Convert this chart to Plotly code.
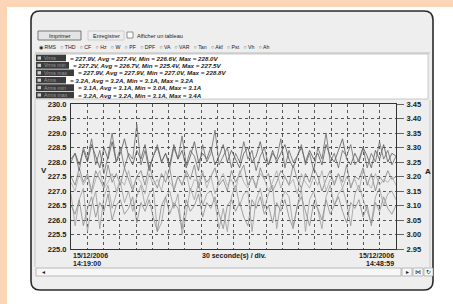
import plotly.graph_objects as go

# ---------------- data ----------------
series_names = ["Vrms max", "Vrms", "Vrms min", "Arms max", "Arms", "Arms min"]

vrms_max = [228.1, 228.3, 227.9, 228.4, 228.0, 228.6, 228.2, 227.8, 228.5, 228.1,
            228.7, 228.0, 228.3, 228.8, 228.2, 227.9, 228.4, 228.1, 228.6, 227.8,
            228.2, 228.5, 228.0, 228.3, 227.9, 228.6, 228.1, 228.4, 227.8, 228.2,
            228.7, 228.0, 228.3, 228.1, 228.5, 227.9, 228.2, 228.6, 228.0, 228.4,
            228.1, 227.8, 228.3, 228.5, 228.0, 228.2, 228.7, 228.1, 227.9, 228.4,
            228.0, 228.3, 228.6, 228.1, 227.8, 228.2, 228.5, 228.0, 228.4, 228.1,
            228.3, 227.9, 228.6, 228.2, 228.0, 228.4, 228.8, 228.1, 227.9, 228.3,
            228.0, 228.5, 228.2, 227.8, 228.4, 228.1, 228.6, 228.0, 228.3, 228.2]

vrms = [227.5, 227.2, 227.8, 227.3, 227.6, 227.0, 227.7, 227.4, 227.1, 227.9,
        227.3, 227.6, 227.2, 227.8, 227.4, 227.0, 227.5, 227.7, 227.2, 227.9,
        227.4, 227.1, 227.6, 227.3, 227.8, 227.0, 227.5, 227.2, 227.7, 227.4,
        227.9, 227.1, 227.6, 227.3, 227.5, 227.8, 227.2, 227.4, 227.0, 227.7,
        227.3, 227.6, 227.9, 227.2, 227.5, 227.1, 227.8, 227.4, 227.6, 227.0,
        227.3, 227.7, 227.5, 227.2, 227.9, 227.4, 227.1, 227.6, 227.3, 227.8,
        227.5, 227.0, 227.4, 227.7, 227.2, 227.6, 227.3, 227.9, 227.1, 227.5,
        227.4, 227.8, 227.2, 227.6, 227.0, 227.5, 227.3, 227.7, 227.4, 227.5]

vrms_min = [226.9, 225.8, 226.7, 227.1, 225.6, 226.5, 227.0, 225.7, 226.8, 227.2,
            226.4, 226.9, 227.3, 226.6, 227.0, 226.3, 226.8, 227.2, 226.5, 226.9,
            227.1, 225.6, 225.9, 226.8, 227.0, 226.4, 226.9, 225.5, 226.2, 227.1,
            226.7, 227.3, 226.5, 226.9, 227.0, 226.6, 225.7, 226.4, 225.6, 226.8,
            227.2, 226.5, 226.9, 227.0, 225.6, 226.7, 227.1, 226.4, 226.9, 227.2,
            225.7, 226.6, 227.0, 226.8, 225.8, 226.5, 227.1, 225.6, 226.7, 227.0,
            226.4, 225.7, 226.8, 227.2, 226.5, 226.9, 227.1, 226.6, 225.8, 226.9,
            227.2, 226.7, 226.3, 225.9, 226.8, 227.1, 226.5, 226.9, 227.0, 226.7]

arms_max = [3.25, 3.28, 3.22, 3.30, 3.26, 3.33, 3.24, 3.29, 3.21, 3.27,
            3.35, 3.25, 3.30, 3.23, 3.28, 3.26, 3.38, 3.24, 3.29, 3.22,
            3.27, 3.31, 3.25, 3.28, 3.23, 3.30, 3.26, 3.34, 3.24, 3.29,
            3.27, 3.22, 3.31, 3.25, 3.28, 3.36, 3.24, 3.27, 3.30, 3.23,
            3.28, 3.25, 3.32, 3.26, 3.29, 3.22, 3.27, 3.30, 3.24, 3.28,
            3.26, 3.33, 3.23, 3.29, 3.25, 3.27, 3.31, 3.24, 3.28, 3.22,
            3.30, 3.26, 3.35, 3.25, 3.28, 3.23, 3.29, 3.27, 3.31, 3.24,
            3.26, 3.30, 3.23, 3.28, 3.25, 3.32, 3.26, 3.29, 3.24, 3.27]

arms = [3.18, 3.15, 3.21, 3.17, 3.20, 3.14, 3.19, 3.22, 3.16, 3.18,
        3.21, 3.15, 3.19, 3.17, 3.22, 3.16, 3.20, 3.18, 3.14, 3.21,
        3.17, 3.19, 3.15, 3.22, 3.18, 3.16, 3.20, 3.17, 3.21, 3.15,
        3.19, 3.18, 3.22, 3.16, 3.20, 3.14, 3.18, 3.21, 3.17, 3.19,
        3.15, 3.22, 3.18, 3.16, 3.20, 3.17, 3.21, 3.19, 3.15, 3.18,
        3.22, 3.16, 3.20, 3.17, 3.19, 3.14, 3.21, 3.18, 3.16, 3.20,
        3.17, 3.22, 3.15, 3.19, 3.18, 3.21, 3.16, 3.20, 3.17, 3.19,
        3.15, 3.22, 3.18, 3.16, 3.21, 3.17, 3.19, 3.18, 3.20, 3.17]

arms_min = [3.10, 3.07, 3.12, 3.03, 3.09, 3.13, 3.06, 3.11, 3.08, 3.14,
            3.05, 3.10, 3.12, 3.07, 3.09, 3.13, 3.04, 3.11, 3.08, 3.12,
            3.06, 3.01, 3.10, 3.13, 3.07, 3.11, 3.09, 3.02, 3.12, 3.08,
            3.10, 3.14, 3.06, 3.11, 3.09, 3.13, 3.07, 3.02, 3.10, 3.12,
            3.08, 3.11, 3.06, 3.03, 3.12, 3.09, 3.13, 3.07, 3.10, 3.04,
            3.11, 3.08, 3.12, 3.06, 3.02, 3.10, 3.13, 3.08, 3.03, 3.11,
            3.09, 3.05, 3.12, 3.07, 3.10, 3.13, 3.08, 3.04, 3.11, 3.09,
            3.12, 3.06, 3.10, 3.03, 3.11, 3.08, 3.13, 3.09, 3.07, 3.10]

legend_labels = ["Vrms", "Vrms min", "Vrms max", "Arms", "Arms min", "Arms max"]
legend_texts = ["= 227.9V, Avg = 227.4V, Min = 226.6V, Max = 228.0V",
                "= 227.2V, Avg = 226.7V, Min = 225.4V, Max = 227.5V",
                "= 227.9V, Avg = 227.9V, Min = 227.0V, Max = 228.8V",
                "= 3.2A, Avg = 3.2A, Min = 3.1A, Max = 3.2A",
                "= 3.1A, Avg = 3.1A, Min = 3.0A, Max = 3.1A",
                "= 3.2A, Avg = 3.2A, Min = 3.1A, Max = 3.4A"]

v_ticks = [225.0, 225.5, 226.0, 226.5, 227.0, 227.5, 228.0, 228.5, 229.0, 229.5, 230.0]
a_ticks = [2.95, 3.00, 3.05, 3.10, 3.15, 3.20, 3.25, 3.30, 3.35, 3.40, 3.45]
radio_items = ["RMS", "THD", "CF", "Hz", "W", "PF", "DPF", "VA", "VAR", "Tan", "Akf", "Pst", "Vh", "Ah"]
t_start = ["15/12/2006", "14:19:00"]
t_end = ["15/12/2006", "14:48:59"]
duration_s = 1799

# ---------------- geometry helpers ----------------
W_FIG, H_FIG = 453, 304
L, R, T, B = 71, 396, 104, 249
PW, PH = R - L, B - T


def px(x):
    return (x - L) / PW


def py(y):
    return (B - y) / PH


def times(n):
    return [i * duration_s / (n - 1) for i in range(n)]


fig = go.Figure()
styles = [("#555555", "y"), ("#808080", "y"), ("#9c9c9c", "y"),
          ("#6a6a6a", "y2"), ("#aaaaaa", "y2"), ("#8a8a8a", "y2")]
all_series = [vrms_max, vrms, vrms_min, arms_max, arms, arms_min]
for name, vals, (col, ax) in zip(series_names, all_series, styles):
    fig.add_trace(go.Scatter(x=times(len(vals)), y=vals, name=name, mode="lines",
                             line=dict(color=col, width=0.8), yaxis=ax, hoverinfo="skip"))

shapes = []


def rect(x0, y0, x1, y1, fill, line=None, lw=0):
    shapes.append(dict(type="rect", xref="paper", yref="paper", layer="below",
                       x0=px(x0), x1=px(x1), y0=py(y0), y1=py(y1),
                       fillcolor=fill, line=dict(color=line or fill, width=lw)))


def hline(x0, x1, y, col, lw=1):
    shapes.append(dict(type="line", xref="paper", yref="paper", layer="below",
                       x0=px(x0), x1=px(x1), y0=py(y), y1=py(y), line=dict(color=col, width=lw)))


def vline(x, y0, y1, col, lw=1):
    shapes.append(dict(type="line", xref="paper", yref="paper", layer="below",
                       x0=px(x), x1=px(x), y0=py(y0), y1=py(y1), line=dict(color=col, width=lw)))


# peach page background (top and left bands)
rect(0, 0, W_FIG, 7, "#fcd4b6")
rect(0, 0, 7, H_FIG, "#fcd4b6")

# window with rounded corners
x0, x1, y0, y1, r = 31, 433, 11, 290, 9
pts = (f"M {px(x0 + r)},{py(y0)} L {px(x1 - r)},{py(y0)} Q {px(x1)},{py(y0)} {px(x1)},{py(y0 + r)} "
       f"L {px(x1)},{py(y1 - r)} Q {px(x1)},{py(y1)} {px(x1 - r)},{py(y1)} "
       f"L {px(x0 + r)},{py(y1)} Q {px(x0)},{py(y1)} {px(x0)},{py(y1 - r)} "
       f"L {px(x0)},{py(y0 + r)} Q {px(x0)},{py(y0)} {px(x0 + r)},{py(y0)} Z")
shapes.append(dict(type="path", path=pts, xref="paper", yref="paper", layer="below",
                   fillcolor="#eeeeee", line=dict(color="#2a2a2a", width=1.6)))

# buttons
rect(38, 31, 81, 40, "#e4e4e4", "#777777", 1)
rect(88, 31, 124, 40, "#eeeeee", "#bbbbbb", 0.6)
rect(127, 32, 133, 38, "#ffffff", "#777777", 0.8)

# separator under radio row
hline(35, 430, 53, "#bdbdbd", 1)

# legend box
rect(35, 54, 428, 99, "#ffffff", "#bdbdbd", 0.8)
row_y = [58, 65.4, 72.8, 80.2, 87.6, 95]
box_end = [66, 69, 74, 66, 74, 74]
for yc, xe in zip(row_y, box_end):
    rect(36, yc - 3.3, xe, yc + 3.3, "#3c3c3c")
    rect(37.5, yc - 1.6, 41, yc + 1.6, "#cfcfcf")

# chart panel frame
vline(35, 100, 267, "#c8c8c8", 1)
vline(430, 100, 267, "#c8c8c8", 1)

# scrollbar
rect(36, 268, 401, 276, "#f7f7f7", "#a0a0a0", 0.7)
rect(402, 268, 412, 276, "#f7f7f7", "#a0a0a0", 0.7)
rect(413, 268, 423, 276, "#f7f7f7", "#a0a0a0", 0.7)
rect(424, 268, 433, 276, "#f7f7f7", "#a0a0a0", 0.7)

ann = []


def text(x, y, s, size=7, xa="left", col="#1a1a1a", fam="Liberation Sans"):
    ann.append(dict(x=px(x), y=py(y), xref="paper", yref="paper", text=s, showarrow=False,
                    xanchor=xa, yanchor="middle", font=dict(size=size, color=col, family=fam)))


text(59.5, 35.5, "Imprimer", 5.5, "center")
text(106, 35.5, "Enregistrer", 5.5, "center")
text(135, 35.5, "Afficher un tableau", 5.5)

radio_str = "   ".join(("◉ " if i == 0 else "○ ") + s for i, s in enumerate(radio_items))
text(37, 47, radio_str, 5.2)

for yc, xe, lab, s in zip(row_y, box_end, legend_labels, legend_texts):
    text(42, yc, lab, 5.2, col="#9a9a9a")
    text(xe + 1.5, yc, f"<b><i>{s}</i></b>", 6.2)

text(39, 170, "<b>V</b>", 8)
text(428, 171, "<b>A</b>", 8, "center")
text(L, 255, f"<b>{t_start[0]}</b>", 7)
text(L, 263, f"<b>{t_start[1]}</b>", 7)
text(R, 255, f"<b>{t_end[0]}</b>", 7, "right")
text(R, 263, f"<b>{t_end[1]}</b>", 7, "right")
text(234, 256, "<b>30 seconde(s) / div.</b>", 7, "center")
text(40, 272, "◂", 6)
text(407, 272, "▸", 5.5, "center")
text(418, 272, "⋈", 5.5, "center")
text(428.5, 272, "↻", 5.5, "center")

fig.update_layout(
    width=W_FIG, height=H_FIG, autosize=False,
    margin=dict(l=L, r=W_FIG - R, t=T, b=H_FIG - B, pad=0),
    paper_bgcolor="#ffffff", plot_bgcolor="#ffffff",
    showlegend=False, shapes=shapes, annotations=ann, hovermode=False,
    font=dict(family="Liberation Sans", color="#1a1a1a"),
    xaxis=dict(range=[0, duration_s], tick0=0, dtick=90, showticklabels=False,
               showgrid=True, gridcolor="#555555", griddash="dot", gridwidth=1,
               showline=True, linecolor="#333333", linewidth=1, mirror=True,
               zeroline=False, ticks=""),
    yaxis=dict(range=[225.0, 230.0], tickvals=v_ticks, ticktext=[f"<b>{v:.1f}</b>" for v in v_ticks],
               tickfont=dict(size=7.5, color="#1a1a1a"), showgrid=True, gridcolor="#555555",
               griddash="dot", gridwidth=1, showline=True, linecolor="#333333", linewidth=1,
               mirror=True, zeroline=False, ticks="", ticklabelstandoff=2),
    yaxis2=dict(range=[2.95, 3.45], tickvals=a_ticks, ticktext=[f"<b>{v:.2f}</b>" for v in a_ticks],
                tickfont=dict(size=7.5, color="#1a1a1a"), overlaying="y", side="right",
                showgrid=False, zeroline=False, ticks="outside", ticklen=7, tickcolor="#666666",
                ticklabelstandoff=1),
)

fig.write_html("out.html", config={"displayModeBar": False, "staticPlot": True},
               post_script="document.body.style.margin='0';document.body.style.overflow='hidden';")
